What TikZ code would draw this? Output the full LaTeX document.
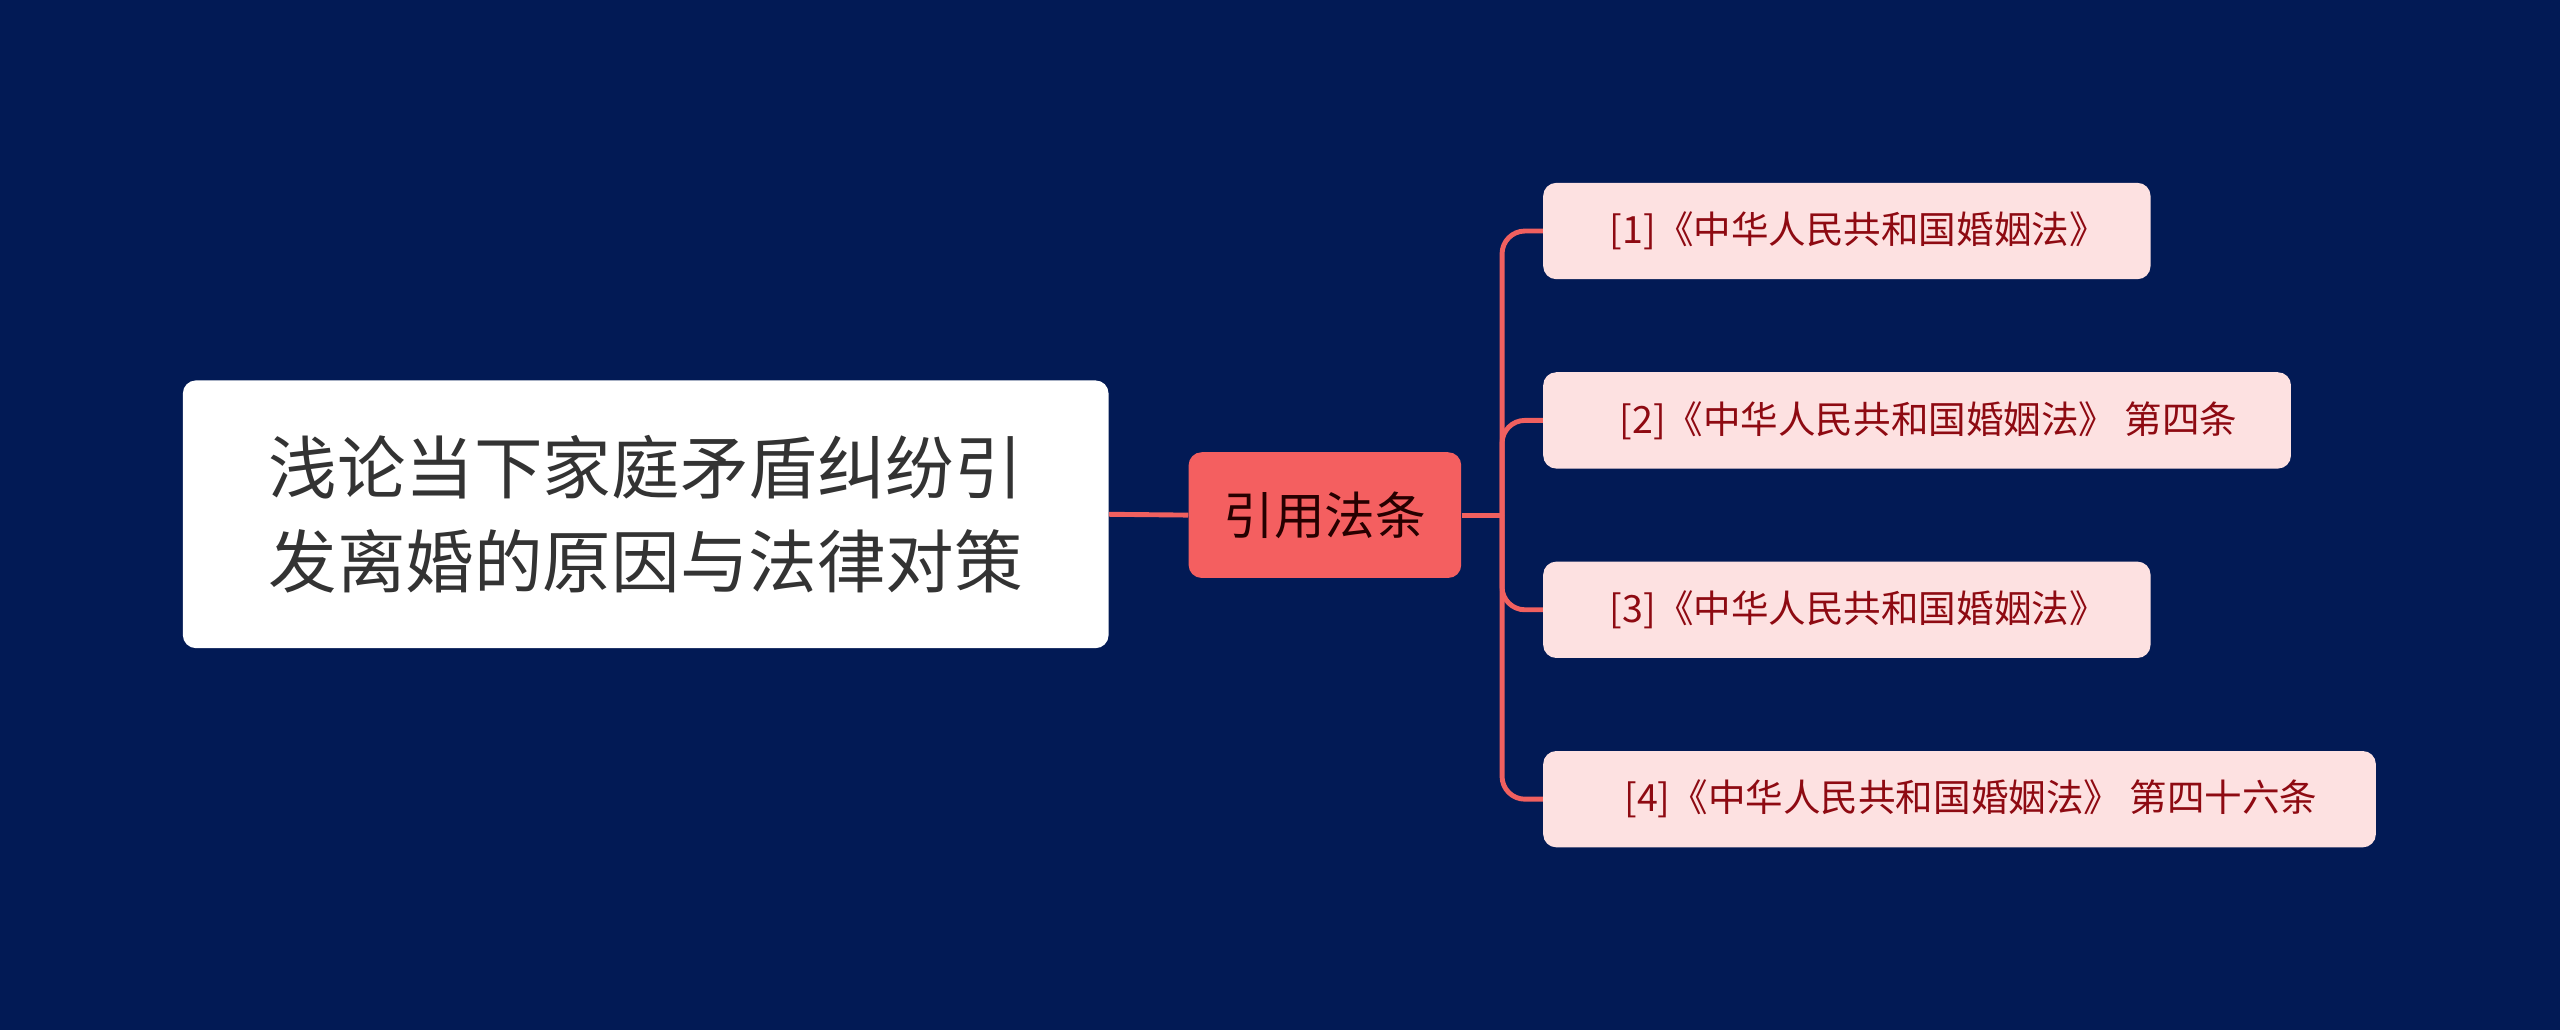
\documentclass[tikz,border=0pt]{standalone}
\usepackage{fontspec}
\newfontfamily\cjk{Noto Sans CJK SC}
\definecolor{bg}{HTML}{021A55}
\definecolor{lnk}{HTML}{F0605F}
\definecolor{midf}{HTML}{F45F60}
\definecolor{leaff}{HTML}{FDE1E1}
\definecolor{leaft}{HTML}{8E0A12}
\tikzset{
 rootbox/.style={fill=white,rounded corners=8pt,inner sep=0pt,minimum width=567pt,minimum height=164pt,align=center,font=\cjk\fontsize{42}{58}\selectfont,text=black!80},
 midbox/.style={fill=midf,rounded corners=8pt,inner sep=0pt,minimum width=167pt,minimum height=77pt,font=\cjk\fontsize{31}{36}\selectfont,text=black!85!red},
 leafbox/.style={fill=leaff,rounded corners=8pt,inner sep=0pt,minimum height=59pt,anchor=west,font=\cjk\fontsize{23}{28}\selectfont,text=leaft},
 conn/.style={draw=lnk,line width=3pt}
}
\begin{document}
\begin{tikzpicture}[x=1pt,y=-1pt]
\fill[bg] (0,0) rectangle (1568,631);
\useasboundingbox (0,0) rectangle (1568,631);
\node[rootbox] (root) at (395.5,315) {浅论当下家庭矛盾纠纷引\\发离婚的原因与法律对策};
\node[midbox] (mid) at (811.5,315.5) {引用法条};
\node[leafbox,minimum width=372pt] (l1) at (945,141.5) {\hspace{14pt}[1]《中华人民共和国婚姻法》\hfill};
\node[leafbox,minimum width=458pt] (l2) at (945,257.5) {\hspace{14pt}[2]《中华人民共和国婚姻法》 第四条\hfill};
\node[leafbox,minimum width=372pt] (l3) at (945,373.5) {\hspace{14pt}[3]《中华人民共和国婚姻法》\hfill};
\node[leafbox,minimum width=510pt] (l4) at (945,489.5) {\hspace{14pt}[4]《中华人民共和国婚姻法》 第四十六条\hfill};
\coordinate (t) at (920,315.5);
\draw[conn] (root.east) -- (mid.west);
\draw[conn] (mid.east) -- (t);
\foreach \l in {l1,l2,l3,l4}{
 \draw[conn,rounded corners=14pt] (t) |- (\l.west);
}
\end{tikzpicture}
\end{document}
